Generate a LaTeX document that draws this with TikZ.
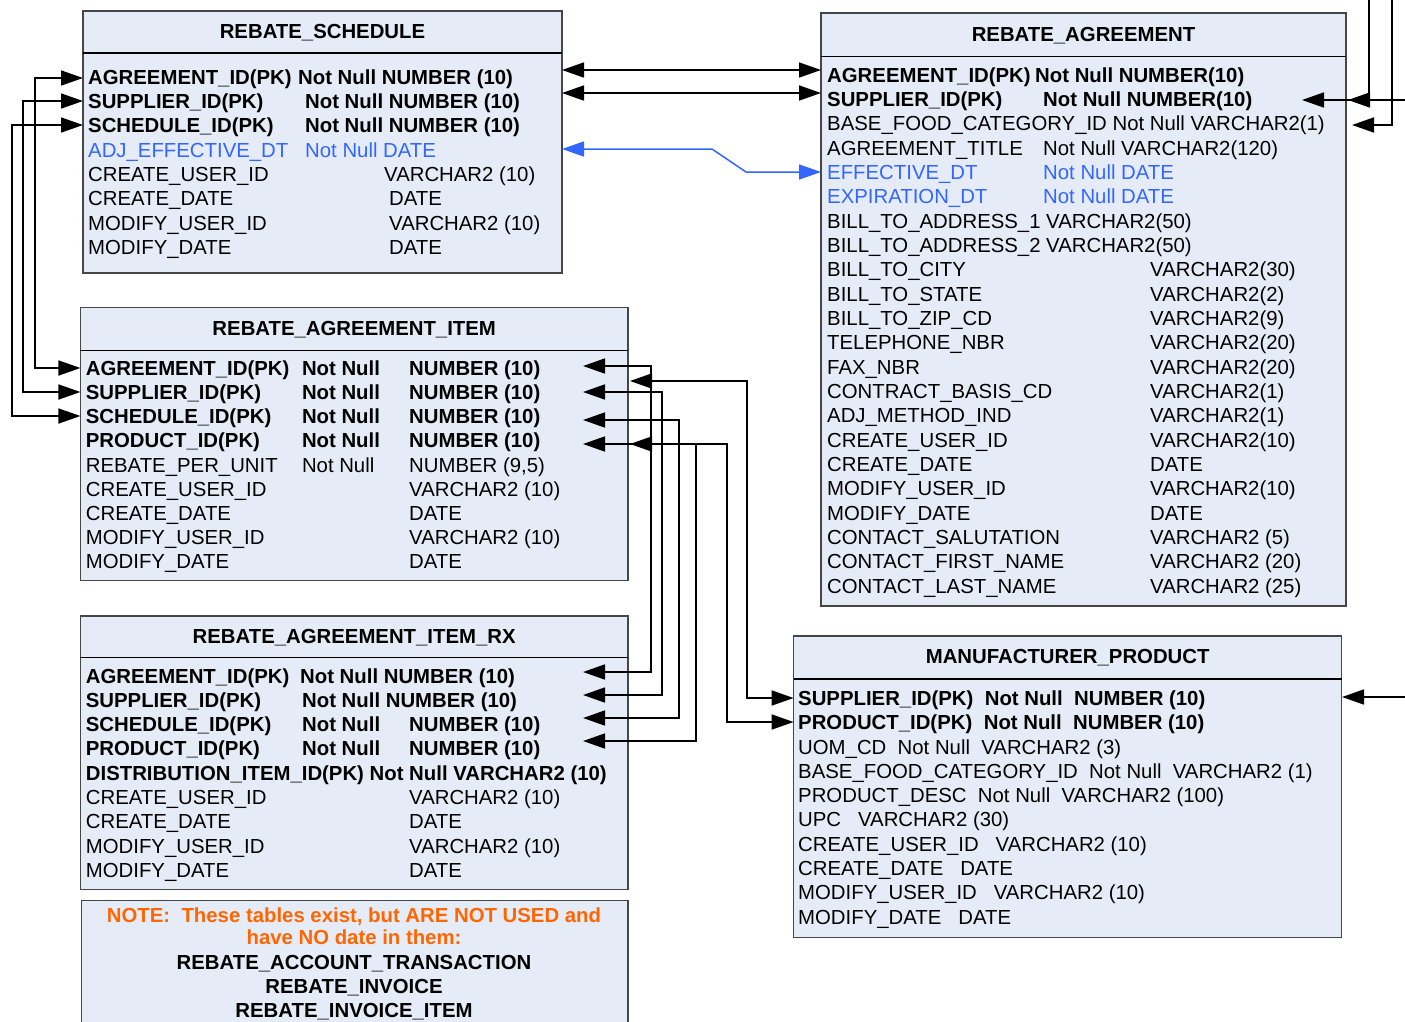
\documentclass[tikz,border=0pt]{standalone}
\usepackage{fontspec}
\setmainfont{Liberation Sans}
\usetikzlibrary{arrows.meta}
\definecolor{boxfill}{RGB}{230,236,247}
\definecolor{boxline}{RGB}{70,70,70}
\definecolor{fkblue}{RGB}{51,102,255}
\definecolor{noteorange}{RGB}{255,102,0}
\newcommand{\tblfont}{\fontsize{20.35}{24}\selectfont}
\tikzset{
  tbl/.style={draw=boxline, fill=boxfill, line width=1.3pt, inner sep=0pt, outer sep=0pt, anchor=north west},
  hdr/.style={draw=black, line width=1.3pt},
  cell/.style={anchor=west, inner sep=0pt, text height=14.57pt, text depth=0pt, font=\tblfont},
  bcell/.style={cell, font=\tblfont\bfseries},
  ccell/.style={cell, text=fkblue},
  ttl/.style={anchor=center, inner sep=0pt, text height=14.57pt, text depth=0pt, font=\tblfont\bfseries},
  fk/.style={line width=1.7pt, {Triangle[length=22pt,width=15pt]}-{Triangle[length=22pt,width=15pt]}},
  fkone/.style={line width=1.7pt, -{Triangle[length=22pt,width=15pt]}},
  fkblue/.style={draw=fkblue, line width=1.5pt, {Triangle[length=22pt,width=15pt]}-{Triangle[length=22pt,width=15pt]}},
}
\begin{document}
\begin{tikzpicture}[x=1pt,y=-1pt]
\useasboundingbox (0,0) rectangle (1405,1021);
\clip (0,0) rectangle (1405,1021);

% ---------------- REBATE_SCHEDULE
\node[tbl, minimum width=479pt, minimum height=262pt] (rs) at (83,11) {};
\draw[hdr] (83,53) -- (562,53);
\node[ttl] (rsT) at (322.5,31) {REBATE\_SCHEDULE};
\node[bcell] (rs1a) at (88,77) {AGREEMENT\_ID(PK)};
\node[bcell] (rs1b) at (298,77) {Not Null NUMBER (10)};
\node[bcell] (rs2a) at (88,101.3) {SUPPLIER\_ID(PK)};
\node[bcell] (rs2b) at (305,101.3) {Not Null NUMBER (10)};
\node[bcell] (rs3a) at (88,125.6) {SCHEDULE\_ID(PK)};
\node[bcell] (rs3b) at (305,125.6) {Not Null NUMBER (10)};
\node[ccell] (rs4a) at (88,149.9) {ADJ\_EFFECTIVE\_DT};
\node[ccell] (rs4b) at (305,149.9) {Not Null DATE};
\node[cell] (rs5a) at (88,174.2) {CREATE\_USER\_ID};
\node[cell] (rs5b) at (384,174.2) {VARCHAR2 (10)};
\node[cell] (rs6a) at (88,198.5) {CREATE\_DATE};
\node[cell] (rs6b) at (389,198.5) {DATE};
\node[cell] (rs7a) at (88,222.8) {MODIFY\_USER\_ID};
\node[cell] (rs7b) at (389,222.8) {VARCHAR2 (10)};
\node[cell] (rs8a) at (88,247.1) {MODIFY\_DATE};
\node[cell] (rs8b) at (389,247.1) {DATE};

% ---------------- REBATE_AGREEMENT
\node[tbl, minimum width=525pt, minimum height=593pt] (ra) at (821,13) {};
\draw[hdr] (821,56.7) -- (1346,56.7);
\node[ttl] (raT) at (1083.5,34) {REBATE\_AGREEMENT};
\node[bcell] (ra0a) at (827,75) {AGREEMENT\_ID(PK)};
\node[bcell] (ra0b) at (1035,75) {Not Null NUMBER(10)};
\node[bcell] (ra1a) at (827,99.3) {SUPPLIER\_ID(PK)};
\node[bcell] (ra1b) at (1043,99.3) {Not Null NUMBER(10)};
\node[cell] (ra2a) at (827,123.7) {BASE\_FOOD\_CATEGORY\_ID Not Null VARCHAR2(1)};
\node[cell] (ra3a) at (827,148) {AGREEMENT\_TITLE};
\node[cell] (ra3b) at (1043,148) {Not Null VARCHAR2(120)};
\node[ccell] (ra4a) at (827,172.3) {EFFECTIVE\_DT};
\node[ccell] (ra4b) at (1043,172.3) {Not Null DATE};
\node[ccell] (ra5a) at (827,196.7) {EXPIRATION\_DT};
\node[ccell] (ra5b) at (1043,196.7) {Not Null DATE};
\node[cell] (ra6a) at (827,221) {BILL\_TO\_ADDRESS\_1 VARCHAR2(50)};
\node[cell] (ra7a) at (827,245.3) {BILL\_TO\_ADDRESS\_2 VARCHAR2(50)};
\node[cell] (ra8a) at (827,269.6) {BILL\_TO\_CITY};
\node[cell] (ra8b) at (1150,269.6) {VARCHAR2(30)};
\node[cell] (ra9a) at (827,294) {BILL\_TO\_STATE};
\node[cell] (ra9b) at (1150,294) {VARCHAR2(2)};
\node[cell] (ra10a) at (827,318.3) {BILL\_TO\_ZIP\_CD};
\node[cell] (ra10b) at (1150,318.3) {VARCHAR2(9)};
\node[cell] (ra11a) at (827,342.6) {TELEPHONE\_NBR};
\node[cell] (ra11b) at (1150,342.6) {VARCHAR2(20)};
\node[cell] (ra12a) at (827,367) {FAX\_NBR};
\node[cell] (ra12b) at (1150,367) {VARCHAR2(20)};
\node[cell] (ra13a) at (827,391.3) {CONTRACT\_BASIS\_CD};
\node[cell] (ra13b) at (1150,391.3) {VARCHAR2(1)};
\node[cell] (ra14a) at (827,415.6) {ADJ\_METHOD\_IND};
\node[cell] (ra14b) at (1150,415.6) {VARCHAR2(1)};
\node[cell] (ra15a) at (827,440) {CREATE\_USER\_ID};
\node[cell] (ra15b) at (1150,440) {VARCHAR2(10)};
\node[cell] (ra16a) at (827,464.3) {CREATE\_DATE};
\node[cell] (ra16b) at (1150,464.3) {DATE};
\node[cell] (ra17a) at (827,488.6) {MODIFY\_USER\_ID};
\node[cell] (ra17b) at (1150,488.6) {VARCHAR2(10)};
\node[cell] (ra18a) at (827,513) {MODIFY\_DATE};
\node[cell] (ra18b) at (1150,513) {DATE};
\node[cell] (ra19a) at (827,537.3) {CONTACT\_SALUTATION};
\node[cell] (ra19b) at (1150,537.3) {VARCHAR2 (5)};
\node[cell] (ra20a) at (827,561.6) {CONTACT\_FIRST\_NAME};
\node[cell] (ra20b) at (1150,561.6) {VARCHAR2 (20)};
\node[cell] (ra21a) at (827,586) {CONTACT\_LAST\_NAME};
\node[cell] (ra21b) at (1150,586) {VARCHAR2 (25)};

% ---------------- REBATE_AGREEMENT_ITEM
\node[tbl, minimum width=547.6pt, minimum height=273.4pt] (rai) at (80.4,307.3) {};
\draw[hdr] (80.4,350.7) -- (628,350.7);
\node[ttl] (raiT) at (354.2,328) {REBATE\_AGREEMENT\_ITEM};
\node[bcell] (rai0a) at (85.7,368) {AGREEMENT\_ID(PK)};
\node[bcell] (rai0b) at (301.8,368) {Not Null};
\node[bcell] (rai0c) at (409,368) {NUMBER (10)};
\node[bcell] (rai1a) at (85.7,392.2) {SUPPLIER\_ID(PK)};
\node[bcell] (rai1b) at (301.8,392.2) {Not Null};
\node[bcell] (rai1c) at (409,392.2) {NUMBER (10)};
\node[bcell] (rai2a) at (85.7,416.4) {SCHEDULE\_ID(PK)};
\node[bcell] (rai2b) at (301.8,416.4) {Not Null};
\node[bcell] (rai2c) at (409,416.4) {NUMBER (10)};
\node[bcell] (rai3a) at (85.7,440.6) {PRODUCT\_ID(PK)};
\node[bcell] (rai3b) at (301.8,440.6) {Not Null};
\node[bcell] (rai3c) at (409,440.6) {NUMBER (10)};
\node[cell] (rai4a) at (85.7,464.8) {REBATE\_PER\_UNIT};
\node[cell] (rai4b) at (301.8,464.8) {Not Null};
\node[cell] (rai4c) at (409,464.8) {NUMBER (9,5)};
\node[cell] (rai5a) at (85.7,489) {CREATE\_USER\_ID};
\node[cell] (rai5c) at (409,489) {VARCHAR2 (10)};
\node[cell] (rai6a) at (85.7,513.2) {CREATE\_DATE};
\node[cell] (rai6c) at (409,513.2) {DATE};
\node[cell] (rai7a) at (85.7,537.4) {MODIFY\_USER\_ID};
\node[cell] (rai7c) at (409,537.4) {VARCHAR2 (10)};
\node[cell] (rai8a) at (85.7,561.6) {MODIFY\_DATE};
\node[cell] (rai8c) at (409,561.6) {DATE};

% ---------------- REBATE_AGREEMENT_ITEM_RX
\node[tbl, minimum width=547.6pt, minimum height=273.3pt] (rair) at (80.4,616) {};
\draw[hdr] (80.4,657.7) -- (628,657.7);
\node[ttl] (rairT) at (354.2,636.7) {REBATE\_AGREEMENT\_ITEM\_RX};
\node[bcell] (rair0a) at (85.7,676) {AGREEMENT\_ID(PK)};
\node[bcell] (rair0b) at (300,676) {Not Null NUMBER (10)};
\node[bcell] (rair1a) at (85.7,700.2) {SUPPLIER\_ID(PK)};
\node[bcell] (rair1b) at (302,700.2) {Not Null NUMBER (10)};
\node[bcell] (rair2a) at (85.7,724.5) {SCHEDULE\_ID(PK)};
\node[bcell] (rair2b) at (302,724.5) {Not Null};
\node[bcell] (rair2c) at (409,724.5) {NUMBER (10)};
\node[bcell] (rair3a) at (85.7,748.7) {PRODUCT\_ID(PK)};
\node[bcell] (rair3b) at (302,748.7) {Not Null};
\node[bcell] (rair3c) at (409,748.7) {NUMBER (10)};
\node[bcell] (rair4a) at (85.7,773) {DISTRIBUTION\_ITEM\_ID(PK) Not Null VARCHAR2 (10)};
\node[cell] (rair5a) at (85.7,797.2) {CREATE\_USER\_ID};
\node[cell] (rair5c) at (409,797.2) {VARCHAR2 (10)};
\node[cell] (rair6a) at (85.7,821.5) {CREATE\_DATE};
\node[cell] (rair6c) at (409,821.5) {DATE};
\node[cell] (rair7a) at (85.7,845.7) {MODIFY\_USER\_ID};
\node[cell] (rair7c) at (409,845.7) {VARCHAR2 (10)};
\node[cell] (rair8a) at (85.7,870) {MODIFY\_DATE};
\node[cell] (rair8c) at (409,870) {DATE};

% ---------------- MANUFACTURER_PRODUCT
\node[tbl, minimum width=548.2pt, minimum height=301.3pt] (mp) at (793.6,636) {};
\draw[hdr] (793.6,679) -- (1341.8,679);
\node[ttl] (mpT) at (1067.7,656) {MANUFACTURER\_PRODUCT};
\node[bcell] (mp0a) at (798,698.3) {SUPPLIER\_ID(PK)};
\node[bcell] (mp0b) at (984.6,698.3) {Not Null};
\node[bcell] (mp0c) at (1074,698.3) {NUMBER (10)};
\node[bcell] (mp1a) at (798,722.6) {PRODUCT\_ID(PK)};
\node[bcell] (mp1b) at (983.6,722.6) {Not Null};
\node[bcell] (mp1c) at (1073,722.6) {NUMBER (10)};
\node[cell] (mp2) at (798,746.8) {UOM\_CD~~Not Null~~VARCHAR2 (3)};
\node[cell] (mp3) at (798,771.1) {BASE\_FOOD\_CATEGORY\_ID~~Not Null~~VARCHAR2 (1)};
\node[cell] (mp4) at (798,795.4) {PRODUCT\_DESC~~Not Null~~VARCHAR2 (100)};
\node[cell] (mp5) at (798,819.6) {UPC~~~VARCHAR2 (30)};
\node[cell] (mp6) at (798,843.9) {CREATE\_USER\_ID~~~VARCHAR2 (10)};
\node[cell] (mp7) at (798,868.2) {CREATE\_DATE~~~DATE};
\node[cell] (mp8) at (798,892.5) {MODIFY\_USER\_ID~~~VARCHAR2 (10)};
\node[cell] (mp9) at (798,916.7) {MODIFY\_DATE~~~DATE};

% ---------------- NOTE
\node[tbl, minimum width=546.2pt, minimum height=140pt] (note) at (81.8,900.7) {};
\node[ttl, text=noteorange] (n1) at (354,915) {NOTE:~~These tables exist, but ARE NOT USED and};
\node[ttl, text=noteorange] (n2) at (354,937) {have NO date in them:};
\node[ttl] (n3) at (354,962) {REBATE\_ACCOUNT\_TRANSACTION};
\node[ttl] (n4) at (354,986.5) {REBATE\_INVOICE};
\node[ttl] (n5) at (354,1010.5) {REBATE\_INVOICE\_ITEM};

% ---------------- connector end points
\coordinate (rsT1) at (562,70);   \coordinate (raT1) at (821,70);
\coordinate (rsT2) at (562,93);   \coordinate (raT2) at (821,93);
\coordinate (rsB)  at (562,149);  \coordinate (raB)  at (821,172);
\coordinate (rsL1) at (83,78);    \coordinate (raiL1) at (80.4,368);
\coordinate (rsL2) at (83,101);   \coordinate (raiL2) at (80.4,392);
\coordinate (rsL3) at (83,125);   \coordinate (raiL3) at (80.4,416);
\coordinate (raiR1) at (583,366); \coordinate (rairR1) at (583,672);
\coordinate (raiR2) at (583,392); \coordinate (rairR2) at (583,695);
\coordinate (raiR3) at (583,420); \coordinate (rairR3) at (583,718);
\coordinate (raiR4) at (583,444); \coordinate (rairR4) at (583,741);
\coordinate (raiE1) at (630,381); \coordinate (mpL1) at (793.6,698);
\coordinate (raiE2) at (630,444); \coordinate (mpL2) at (793.6,722);
\coordinate (raR1) at (1302,100); \coordinate (offR1) at (1406,100);
\coordinate (raR2) at (1348,100); \coordinate (offR2) at (1369,-2);
\coordinate (raR3) at (1352,125); \coordinate (offR3) at (1392,-2);
\coordinate (mpR) at (1342,697);  \coordinate (offR4) at (1406,697);

% ---------------- connectors
\draw[fk] (rsT1) -- (raT1);
\draw[fk] (rsT2) -- (raT2);
\draw[fkblue] (rsB) -- (712,149) -- (746,172) -- (raB);
\draw[fk] (rsL1) -- (35,78) -- (35,368) -- (raiL1);
\draw[fk] (rsL2) -- (23,101) -- (23,392) -- (raiL2);
\draw[fk] (rsL3) -- (12,125) -- (12,416) -- (raiL3);
\draw[fk] (raiR1) -- (651,366) -- (651,672) -- (rairR1);
\draw[fk] (raiR2) -- (662,392) -- (662,695) -- (rairR2);
\draw[fk] (raiR3) -- (679,420) -- (679,718) -- (rairR3);
\draw[fk] (raiR4) -- (696,444) -- (696,741) -- (rairR4);
\draw[fk] (raiE1) -- (747,381) -- (747,698) -- (mpL1);
\draw[fk] (raiE2) -- (727,444) -- (727,722) -- (mpL2);
\draw[fkone] (offR1) -- (raR1);
\draw[fkone] (offR2) |- (raR2);
\draw[fkone] (offR3) |- (raR3);
\draw[fkone] (offR4) -- (mpR);
\end{tikzpicture}
\end{document}
